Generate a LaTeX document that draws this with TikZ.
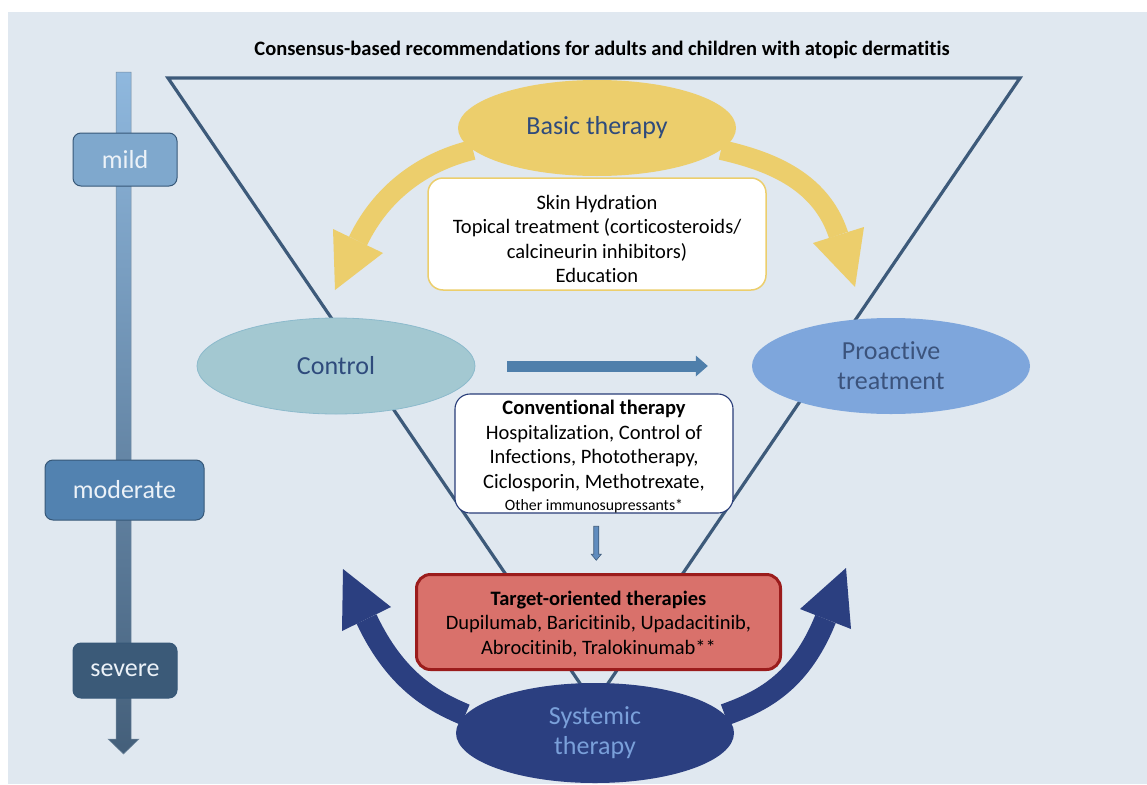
\documentclass[tikz,border=0pt]{standalone}
\usepackage{fontspec}
\setmainfont{Carlito}[Ligatures=NoCommon]
\usetikzlibrary{shapes.geometric,arrows.meta,calc}
\definecolor{bgc}{RGB}{224,232,240}
\definecolor{tri}{RGB}{61,90,122}
\definecolor{yel}{RGB}{236,206,108}
\definecolor{navy}{RGB}{43,63,128}
\definecolor{darktxt}{RGB}{47,75,124}
\definecolor{ctrlc}{RGB}{163,200,209}
\definecolor{ctrld}{RGB}{140,186,204}
\definecolor{proc}{RGB}{126,166,220}
\definecolor{sysTxt}{RGB}{122,160,218}
\definecolor{hblue}{RGB}{79,127,171}
\definecolor{sblue}{RGB}{96,140,190}
\definecolor{convd}{RGB}{40,60,120}
\definecolor{targf}{RGB}{217,113,107}
\definecolor{targd}{RGB}{155,28,28}
\definecolor{lvltxt}{RGB}{236,242,248}
\definecolor{mildf}{RGB}{127,168,205}
\definecolor{modf}{RGB}{82,130,176}
\definecolor{sevf}{RGB}{59,90,120}
\definecolor{lvld}{RGB}{55,88,120}
\definecolor{bartop}{RGB}{143,184,222}
\definecolor{barbot}{RGB}{68,95,122}
\pgfdeclarelayer{background}
\pgfdeclarelayer{arrowlayer}
\pgfsetlayers{background,arrowlayer,main}
\begin{document}
\begin{tikzpicture}[x=1pt,y=-1pt,
  ell/.style={ellipse, minimum width=278, minimum height=96, inner sep=0pt, align=center,
              font=\fontsize{26}{30}\selectfont},
  lvl/.style={rectangle, rounded corners=8, draw=lvld, line width=1, text=lvltxt,
              font=\fontsize{26}{30}\selectfont, inner sep=0pt},
  txtbox/.style={rectangle, rounded corners=15, fill=white, inner sep=0pt},
  boxtext/.style={align=center, inner sep=0pt, font=\fontsize{20.5}{24.6}\selectfont},
  yshaft/.style={draw=yel, line width=20},
  bshaft/.style={draw=navy, line width=22},
]
\useasboundingbox (0,0) rectangle (1147,784);

% ---------- nodes ----------
\node[font=\fontsize{20.5}{24}\selectfont\bfseries] (title) at (602,50)
  {Consensus-based recommendations for adults and children with atopic dermatitis};

\node[ell, fill=yel, text=darktxt] (basic) at (597,128) {\raisebox{-2pt}{Basic therapy}};

\node[txtbox, draw=yel, line width=1.5, minimum width=338, minimum height=112] (basicbox) at (597,234) {};
\node[boxtext] (basictext) at ($(basicbox.center)+(0,5)$)
  {Skin Hydration\\Topical treatment (corticosteroids/\\calcineurin inhibitors)\\Education};

\node[ell, fill=ctrlc, draw=ctrld, line width=0.8, text=darktxt] (control) at (336,366) {Control};
\node[ell, fill=proc, text=darktxt!85!gray] (proactive) at (891,366) {Proactive\\treatment};

\node[txtbox, draw=convd, line width=1.1, minimum width=278, minimum height=119] (conv) at (594,453.5) {};
\node[boxtext] (convtext) at ($(conv.center)+(0,3)$)
  {\textbf{Conventional therapy}\\Hospitalization, Control of\\Infections, Phototherapy,\\Ciclosporin, Methotrexate,\\[-3pt]{\fontsize{15.8}{17}\selectfont Other immunosupressants*}};

\node[rectangle, rounded corners=14, fill=targf, draw=targd, line width=3,
      minimum width=364, minimum height=95, inner sep=0pt] (target) at (598.5,622) {};
\node[boxtext] (targettext) at ($(target.center)+(0,2)$)
  {\textbf{Target-oriented therapies}\\Dupilumab, Baricitinib, Upadacitinib,\\Abrocitinib, Tralokinumab**};

\node[ell, minimum height=100, fill=navy, text=sysTxt] (systemic) at (595,733) {Systemic\\therapy};

\node[lvl, fill=mildf, minimum width=104, minimum height=53] (mild) at (125,159.5) {mild};
\node[lvl, fill=modf, minimum width=159, minimum height=60] (moderate) at (124.5,490) {moderate};
\node[lvl, fill=sevf, minimum width=104, minimum height=55] (severe) at (125,670.5) {severe};

% ---------- arrows ----------
\begin{pgfonlayer}{arrowlayer}
  % yellow left
  \coordinate (ylb) at (358,241);
  \draw[yshaft] (basic.190) .. controls (430,160) and (384,187) .. (ylb);
  \fill[yel] (333,229) -- (335,290) coordinate (yltip) -- (383,253) -- cycle;
  % yellow right
  \coordinate (yrb) at (838.5,235);
  \draw[yshaft] (basic.-10) .. controls (765,160) and (820,178) .. (yrb);
  \fill[yel] (813,243) -- (855,287) coordinate (yrtip) -- (864,227) -- cycle;
  % navy left
  \coordinate (blb) at (366.5,619);
  \draw[bshaft] (systemic.172) .. controls (435,702) and (396.5,682.6) .. (blb);
  \fill[navy] (342,631) -- (343,569) coordinate (bltip) -- (391,607) -- cycle;
  % navy right
  \coordinate (brb) at (825.5,619);
  \draw[bshaft] (systemic.8) .. controls (760,702) and (799.5,684) .. (brb);
  \fill[navy] (800,609) -- (846,568) coordinate (brtip) -- (851,629) -- cycle;
\end{pgfonlayer}

% horizontal arrow control -> proactive
\coordinate (h0) at ($(control.east)+(32,0)$);
\coordinate (h1) at ($(proactive.west)+(-56,0)$);
\draw[hblue, line width=11] (h0) -- ($(h1)+(1,0)$);
\fill[hblue] ($(h1)+(0,-10.5)$) -- ($(h1)+(12,0)$) -- ($(h1)+(0,10.5)$) -- cycle;

% small arrow conv -> target
\coordinate (m) at ($(conv.south)!0.5!(target.north)$);
\filldraw[fill=sblue, draw=tri, line width=0.6]
  ($(m)+(-2.5,-17)$) -- ($(m)+(2.5,-17)$) -- ($(m)+(2.5,11)$) -- ($(m)+(5,11)$) --
  ($(m)+(0,17)$) -- ($(m)+(-5,11)$) -- ($(m)+(-2.5,11)$) -- cycle;

% ---------- background ----------
\begin{pgfonlayer}{background}
  \fill[white] (0,0) rectangle (1147,784);
  \fill[bgc] (8,12) rectangle (1147,784);
  \coordinate (t1) at (168,78);
  \coordinate (t2) at (1020,78);
  \coordinate (t3) at (594,704);
  \draw[tri, line width=3.2, line join=miter] (t1) -- (t2) -- (t3) -- cycle;
  \coordinate (bartopc) at (123.5,72);
  \coordinate (bartipc) at (123.5,754);
  \shade[top color=bartop, bottom color=barbot, draw=lvld!70, line width=0.5]
    ($(bartopc)+(-7.5,0)$) -- ($(bartopc)+(7.5,0)$) -- ($(bartipc)+(7.5,-15)$) --
    ($(bartipc)+(15.5,-15)$) -- (bartipc) -- ($(bartipc)+(-15.5,-15)$) --
    ($(bartipc)+(-7.5,-15)$) -- cycle;
\end{pgfonlayer}
\end{tikzpicture}
\end{document}
